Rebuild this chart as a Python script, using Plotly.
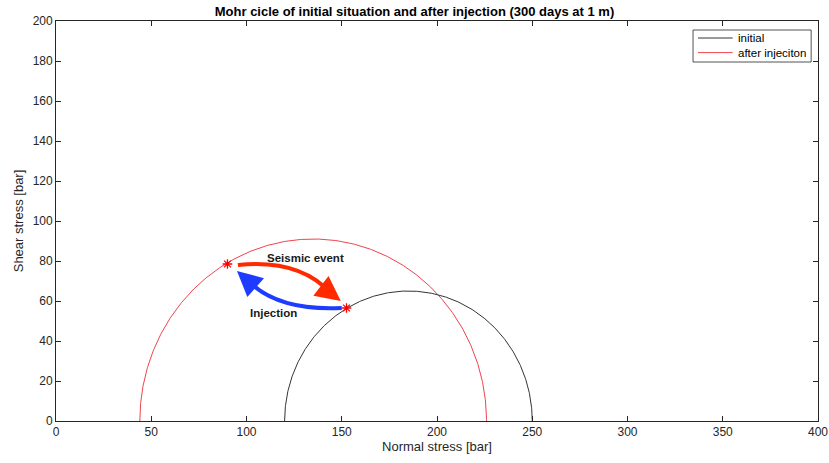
import numpy as np
import plotly.graph_objects as go

# Mohr circle definitions (sigma3, sigma1) in bar
circle_names = ["initial", "after injeciton"]
sigma3 = [120, 44]
sigma1 = [250, 226]
circle_colors = ["#000000", "#e8141e"]

# stress states on the fault (normal, shear)
star_x = [90, 152.5]
star_y = [78.5, 56.5]

# curved arrows: start, control, shaft end, tip
red_arrow = {"p0": (95.5, 78), "c": (128, 81), "p2": (144, 64), "tip": (149.5, 60)}
blue_arrow = {"p0": (150, 56.5), "c": (117, 55), "p2": (101.5, 69.5), "tip": (95, 75)}
labels = [("Seismic event", 131, 81.5), ("Injection", 114, 54)]

x_ticks = [0, 50, 100, 150, 200, 250, 300, 350, 400]
y_ticks = [0, 20, 40, 60, 80, 100, 120, 140, 160, 180, 200]

fig = go.Figure()
theta = np.linspace(np.pi, 0, 400)
for name, s3, s1, col in zip(circle_names, sigma3, sigma1, circle_colors):
    c = (s1 + s3) / 2
    r = (s1 - s3) / 2
    fig.add_trace(go.Scatter(x=c + r * np.cos(theta), y=r * np.sin(theta), mode="lines",
                             line=dict(color=col, width=0.8), name=name, showlegend=False))

fig.add_trace(go.Scatter(x=star_x, y=star_y, mode="markers", showlegend=False,
                         marker=dict(symbol="asterisk-open", size=8, color="#ff0000",
                                     line=dict(color="#ff0000", width=1.3))))

for arr, col in [(red_arrow, "#ff2a00"), (blue_arrow, "#1e3cff")]:
    (x0, y0), (cx, cy), (x2, y2), (tx, ty) = arr["p0"], arr["c"], arr["p2"], arr["tip"]
    fig.add_shape(type="path", xref="x", yref="y",
                  path=f"M {x0},{y0} Q {cx},{cy} {x2},{y2}",
                  line=dict(color=col, width=4))
    fig.add_annotation(x=tx, y=ty, ax=x2 - (tx - x2) * 0.3, ay=y2 - (ty - y2) * 0.3,
                       xref="x", yref="y", axref="x", ayref="y", text="",
                       showarrow=True, arrowhead=2, arrowsize=1.25, arrowwidth=4,
                       arrowcolor=col)

for txt, lx, ly in labels:
    fig.add_annotation(x=lx, y=ly, text=f"<b>{txt}</b>", showarrow=False,
                       font=dict(size=11.5, color="#1a1a1a", family="Liberation Sans"))

# hand-drawn compact legend (paper coordinates)
fig.add_shape(type="rect", xref="paper", yref="paper", x0=0.836, x1=0.991, y0=0.8975, y1=0.9775,
              line=dict(color="#262626", width=0.8), fillcolor="white", layer="above")
legend_rows_y = [0.9575, 0.921]
for name, col, ly in zip(circle_names, circle_colors, legend_rows_y):
    fig.add_shape(type="line", xref="paper", yref="paper", x0=0.8425, x1=0.888, y0=ly, y1=ly,
                  line=dict(color=col, width=0.8), layer="above")
    fig.add_annotation(x=0.893, y=ly, xref="paper", yref="paper", text=name, showarrow=False,
                       xanchor="left", yanchor="middle",
                       font=dict(size=11.5, color="#000000", family="Liberation Sans"))

axis_common = dict(showgrid=False, zeroline=False, ticks="inside", ticklen=5,
                   tickcolor="#262626", linecolor="#262626", linewidth=0.8,
                   mirror="ticks", showline=True, automargin=False,
                   tickfont=dict(size=12, color="#262626", family="Liberation Sans"))

fig.update_layout(
    width=829, height=463,
    margin=dict(l=56, r=11, t=21, b=42),
    paper_bgcolor="white", plot_bgcolor="white",
    title=dict(text="<b>Mohr cicle of initial situation and after injection (300 days at 1 m)</b>",
               x=0.5, xanchor="center", y=0.976, yanchor="middle",
               font=dict(size=13, color="#000000", family="Liberation Sans")),
    xaxis=dict(range=[0, 400], tickvals=x_ticks,
               title=dict(text="Normal stress [bar]", standoff=3,
                          font=dict(size=13, color="#262626", family="Liberation Sans")),
               **axis_common),
    yaxis=dict(range=[0, 200], tickvals=y_ticks,
               title=dict(text="Shear stress [bar]", standoff=6,
                          font=dict(size=13, color="#262626", family="Liberation Sans")),
               **axis_common),
    showlegend=False,
)

fig.write_html("out.html")
